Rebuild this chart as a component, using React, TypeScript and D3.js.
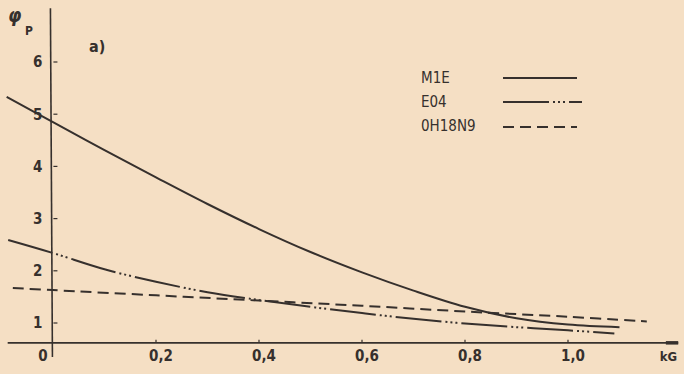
import React from 'react';
import * as d3 from 'd3';

// values (kG vs phi_p)
const m1eX = [-0.09, 0, 0.1, 0.2, 0.3, 0.4, 0.5, 0.6, 0.7, 0.8, 0.9, 1.0, 1.1];
const m1eY = [5.33, 4.85, 4.31, 3.79, 3.28, 2.8, 2.36, 1.97, 1.62, 1.31, 1.09, 0.97, 0.92];

const e04X = [-0.087, 0, 0.1, 0.2, 0.3, 0.4, 0.5, 0.6, 0.7, 0.8, 0.9, 1.0, 1.09];
const e04Y = [2.59, 2.34, 2.03, 1.79, 1.59, 1.44, 1.31, 1.19, 1.08, 0.99, 0.92, 0.86, 0.8];

const ohX = [-0.078, 0, 0.2, 0.4, 0.6, 0.8, 1.0, 1.153];
const ohY = [1.67, 1.63, 1.53, 1.43, 1.33, 1.22, 1.12, 1.03];

const xTicks = [0, 0.2, 0.4, 0.6, 0.8, 1.0];
const xTickLabels = ['0', '0,2', '0,4', '0,6', '0,8', '1,0'];
const yTicks = [1, 2, 3, 4, 5, 6];

const legendNames = ['M1E', 'E04', '0H18N9'];

const W = 684;
const H = 374;
const ink = '#36302d';
const paper = '#f5dfc4';
const font = '"DejaVu Sans Condensed", "DejaVu Sans", sans-serif';

const dashE04 = '46,4,2,3,2,3,2,4';
const dashOH = '11,6';

export default function App() {
  const x = d3.scaleLinear().domain([0, 1]).range([53, 568]);
  const y = d3.scaleLinear().domain([1, 6]).range([323, 62]);

  const line = d3
    .line<[number, number]>()
    .x(d => x(d[0]))
    .y(d => y(d[1]))
    .curve(d3.curveCatmullRom.alpha(0.5));

  const m1e = line(m1eX.map((v, i) => [v, m1eY[i]]));
  const e04 = line(e04X.map((v, i) => [v, e04Y[i]]));
  const oh = line(ohX.map((v, i) => [v, ohY[i]]));

  const axisY = y(0.62);
  const axisX = x(-0.005);

  const dashes = [undefined, dashE04, dashOH];

  return (
    <svg
      width={W}
      height={H}
      style={{ position: 'fixed', left: 0, top: 0, background: paper }}
    >
      <rect x={0} y={0} width={W} height={H} fill={paper} />

      {/* axes */}
      <line x1={x(-0.088)} x2={x(1.214)} y1={axisY} y2={axisY} stroke={ink} strokeWidth={1.6} />
      <line x1={x(1.19)} x2={x(1.214)} y1={axisY} y2={axisY} stroke={ink} strokeWidth={3.5} />
      <line x1={axisX} x2={axisX + 2} y1={y(7.03)} y2={y(0.35)} stroke={ink} strokeWidth={1.6} />

      {yTicks.map(t => (
        <g key={'y' + t}>
          <line x1={axisX + 3} x2={axisX + 7} y1={y(t)} y2={y(t)} stroke={ink} strokeWidth={1.2} />
          <text
            x={axisX - 8}
            y={y(t)}
            dy="0.36em"
            textAnchor="end"
            fontFamily={font}
            fontWeight="bold"
            fontSize={15}
            fill={ink}
          >
            {t}
          </text>
        </g>
      ))}

      {xTicks.map((t, i) => (
        <g key={'x' + t}>
          {t > 0 && (
            <line x1={x(t)} x2={x(t)} y1={axisY - 3} y2={axisY} stroke={ink} strokeWidth={1.2} />
          )}
          <text
            x={t === 0 ? x(t) - 10 : x(t) + 5}
            y={axisY + 18}
            textAnchor="middle"
            fontFamily={font}
            fontWeight="bold"
            fontSize={15}
            fill={ink}
          >
            {xTickLabels[i]}
          </text>
        </g>
      ))}

      <text x={x(1.195)} y={axisY + 18} fontFamily={font} fontWeight="bold" fontSize={13} fill={ink} textAnchor="middle">
        kG
      </text>

      {/* axis title */}
      <text x={8} y={22} fontFamily={font} fontWeight="bold" fontSize={19} fontStyle="italic" fill={ink}>
        φ
      </text>
      <text x={25} y={35} fontFamily={font} fontWeight="bold" fontSize={12} fill={ink}>
        P
      </text>
      <text x={89} y={52} fontFamily={font} fontWeight="bold" fontSize={16} fill={ink}>
        a)
      </text>

      {/* curves */}
      <path d={m1e ?? ''} fill="none" stroke={ink} strokeWidth={2} />
      <path d={e04 ?? ''} fill="none" stroke={ink} strokeWidth={2} strokeDasharray={dashE04} />
      <path d={oh ?? ''} fill="none" stroke={ink} strokeWidth={2} strokeDasharray={dashOH} />

      {/* legend */}
      {legendNames.map((name, i) => (
        <g key={name} transform={`translate(421, ${78 + i * 24})`}>
          <text x={0} y={0} dy="0.36em" fontFamily={font} fontSize={15} fill={ink}>
            {name}
          </text>
          <line
            x1={82}
            x2={i === 1 ? 161 : 156}
            y1={i === 2 ? 1 : 0}
            y2={i === 2 ? 1 : 0}
            stroke={ink}
            strokeWidth={2}
            strokeDasharray={dashes[i]}
          />
        </g>
      ))}
    </svg>
  );
}
